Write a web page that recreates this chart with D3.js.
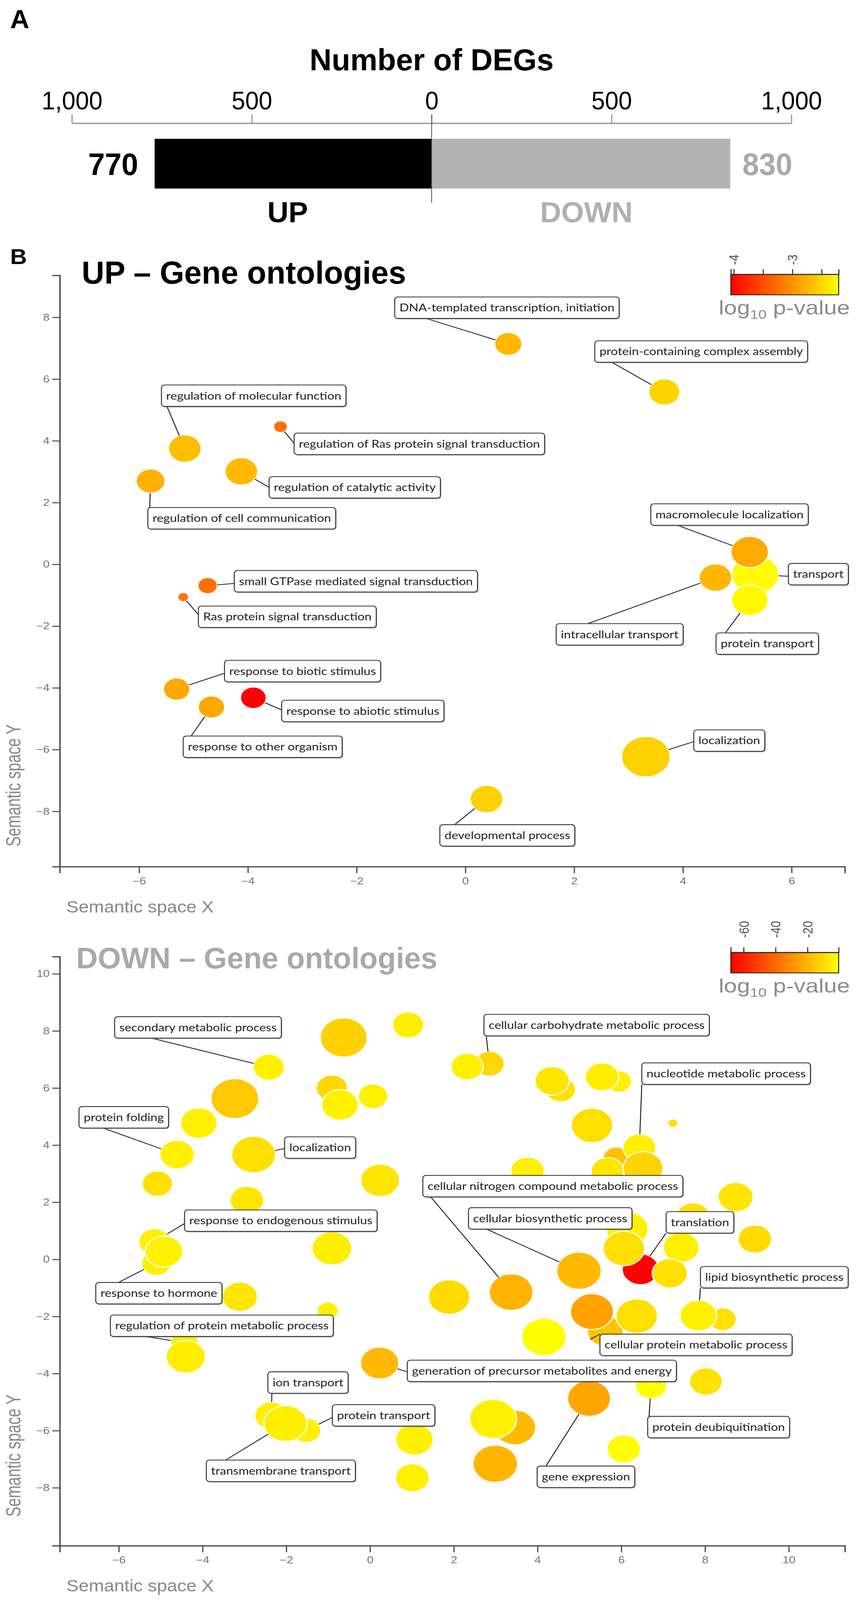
<!DOCTYPE html>
<html>
<head>
<meta charset="utf-8">
<script src="https://d3js.org/d3.v7.min.js"></script>
<style>
  html, body { margin: 0; padding: 0; background: #fff; overflow: hidden; }
  svg { display: block; }
  text { font-family: "Liberation Sans", Arial, sans-serif; }
  .go-label text { font-family: Lato, "Open Sans", sans-serif; }
</style>
</head>
<body>
<div id="chart"></div>
<script>
// ---- Panel A: number of DEGs ----
const degGroups = ['UP', 'DOWN'];
const degCounts = [770, 830];
const degTicks = [-1000, -500, 0, 500, 1000];

// ---- Panel B: UP gene ontologies (REVIGO semantic space) ----
const upTerms = ['transport', 'macromolecule localization', 'intracellular transport', 'protein transport',
  'localization', 'developmental process', 'DNA-templated transcription, initiation',
  'protein-containing complex assembly', 'regulation of molecular function', 'regulation of catalytic activity',
  'regulation of cell communication', 'regulation of Ras protein signal transduction',
  'small GTPase mediated signal transduction', 'Ras protein signal transduction',
  'response to biotic stimulus', 'response to other organism', 'response to abiotic stimulus'];
const upX = [5.33, 5.23, 4.60, 5.23, 3.32, 0.39, 0.79, 3.66, -5.16, -4.12, -5.79, -3.40, -4.74, -5.19, -5.31, -4.67, -3.90];
const upY = [-0.33, 0.40, -0.43, -1.16, -6.23, -7.60, 7.14, 5.58, 3.75, 3.01, 2.70, 4.46, -0.69, -1.06, -4.04, -4.62, -4.32];
const upLogSize = [3.5, 2.9, 2.6, 2.85, 3.6, 2.6, 2.25, 2.5, 2.6, 2.6, 2.35, 1.4, 1.75, 1.2, 2.2, 2.2, 2.15];
const upLogP = [-2.23, -2.82, -2.73, -2.25, -2.54, -2.54, -2.73, -2.52, -2.67, -2.71, -2.78, -3.24, -3.24, -3.19, -2.84, -2.84, -4.05];
const upXTicks = [-6, -4, -2, 0, 2, 4, 6];
const upYTicks = [-8, -6, -4, -2, 0, 2, 4, 6, 8];
const upLegendTicks = [-4, -3.5, -3, -2.5];
const upLegendLabels = [-4, -3];

// ---- Panel B: DOWN gene ontologies ----
const downTerms = [null, null, 'secondary metabolic process', null, null, 'protein folding', null, 'localization',
  null, null, null, null, null, 'response to hormone', 'response to endogenous stimulus', null, null, null, null,
  'regulation of protein metabolic process', null, 'generation of precursor metabolites and energy',
  'ion transport', 'protein transport', 'transmembrane transport', null, null, null,
  'cellular nitrogen compound metabolic process', 'cellular biosynthetic process', null, 'translation',
  null, null, null, null, null, null, null, null, null, 'nucleotide metabolic process', null, null, null, null,
  null, null, null, 'cellular carbohydrate metabolic process', null, 'cellular protein metabolic process',
  null, null, null, 'lipid biosynthetic process', null, 'protein deubiquitination', null, 'gene expression',
  null, null, null, null];
const downX = [-0.63, 0.91, -2.42, -3.23, -4.09, -4.61, -5.08, -2.78, -0.91, -0.72, 0.07, 0.24, -2.94, -5.10, -5.15,
  -4.92, -0.91, -3.11, -1.01, -4.43, -4.40, 0.23, -2.36, -1.52, -2.02, 1.06, 1.01, 1.89, 3.37, 4.99, 6.14, 6.46,
  6.06, 7.43, 7.16, 7.71, 8.73, 9.19, 3.76, 5.88, 5.67, 6.43, 6.52, 5.30, 7.23, 4.55, 4.35, 5.94, 5.54, 2.85, 2.32,
  5.62, 5.30, 6.37, 8.42, 7.84, 4.15, 6.71, 8.02, 5.23, 3.46, 2.94, 2.99, 6.06];
const downY = [7.77, 8.21, 6.73, 5.63, 4.77, 3.67, 2.65, 3.67, 6.00, 5.41, 5.71, 2.77, 2.07, -0.13, 0.62,
  0.27, 0.39, -1.31, -1.80, -2.92, -3.41, -3.63, -5.47, -5.99, -5.75, -6.31, -7.65, -1.32, -1.15, -0.40, 1.06, -0.35,
  0.38, 0.42, -0.49, 1.49, 2.18, 0.71, 3.09, 3.54, 3.09, 3.91, 3.19, 4.69, 4.77, 5.95, 6.25, 6.23, 6.39, 6.85, 6.75,
  -2.52, -1.83, -1.99, -2.10, -1.97, -2.72, -4.42, -4.28, -4.87, -5.89, -5.59, -7.16, -6.64];
const downLogSize = [3.5, 2.5, 2.5, 3.55, 2.85, 2.7, 2.45, 3.3, 2.5, 2.85, 2.4, 3.0, 2.65, 2.4, 2.5,
  2.9, 3.05, 2.75, 1.85, 2.25, 3.0, 2.95, 2.6, 2.35, 3.25, 2.9, 2.65, 3.15, 3.3, 3.35, 3.15, 2.85,
  3.15, 2.8, 2.75, 2.65, 2.75, 2.65, 2.65, 2.2, 2.6, 2.6, 3.05, 3.15, 1.15, 2.4, 2.7, 2.15, 2.65, 2.4, 2.55,
  2.8, 3.25, 3.15, 2.25, 2.85, 3.35, 2.5, 2.6, 3.25, 3.15, 3.5, 3.35, 2.65];
const downLogP = [-13, -5, -4.5, -15, -4.5, -4.5, -9, -9, -11, -4.5, -4.5, -7, -7, -4.5, -4.5,
  -4, -5, -7, -4.5, -4.5, -5, -19, -4.5, -4.5, -5, -4.5, -4.5, -10, -21, -19, -4.5, -68,
  -9, -4.5, -8.5, -8.5, -7, -10, -4.5, -17, -7, -4.5, -12, -9, -9, -8.5, -7.5, -4.5, -5, -11, -4.5,
  -16, -25, -9, -8.5, -4.5, -1, -1, -8, -24, -19, -4.5, -20, -1];
const downXTicks = [-6, -4, -2, 0, 2, 4, 6, 8, 10];
const downYTicks = [-8, -6, -4, -2, 0, 2, 4, 6, 8, 10];
const downLegendTicks = [-60, -40, -20];
const downLegendLabels = [-60, -40, -20];

// label layout: box top-left in semantic coords, leader attach point as fraction of box width/height
const upLabelPos = {
  'DNA-templated transcription, initiation': [-1.30, 8.66, 0.14, 1],
  'protein-containing complex assembly': [2.38, 7.24, 0.08, 1],
  'regulation of molecular function': [-5.59, 5.81, 0.03, 1],
  'regulation of Ras protein signal transduction': [-3.15, 4.25, 0, 0.48],
  'regulation of catalytic activity': [-3.61, 2.84, 0, 0.5],
  'regulation of cell communication': [-5.84, 1.84, 0.01, 0],
  'macromolecule localization': [3.41, 1.96, 0.17, 1],
  'transport': [5.94, 0.03, 0, 0.6],
  'intracellular transport': [1.67, -1.92, 0.25, 0],
  'protein transport': [4.61, -2.22, 0.09, 0],
  'small GTPase mediated signal transduction': [-4.25, -0.20, 0, 0.6],
  'Ras protein signal transduction': [-4.91, -1.35, 0, 0.4],
  'response to biotic stimulus': [-4.43, -3.11, 0, 0.6],
  'response to abiotic stimulus': [-3.38, -4.40, 0, 0.45],
  'response to other organism': [-5.19, -5.56, 0.05, 0],
  'localization': [4.20, -5.36, 0, 0.55],
  'developmental process': [-0.47, -8.43, 0.11, 0]
};
const downLabelPos = {
  'secondary metabolic process': [-6.10, 8.50, 0.22, 1],
  'protein folding': [-6.95, 5.35, 0.27, 1],
  'localization': [-2.04, 4.29, 0, 0.55],
  'response to endogenous stimulus': [-4.43, 1.73, 0, 0.63],
  'response to hormone': [-6.55, -0.81, 0.18, 0],
  'regulation of protein metabolic process': [-6.20, -1.95, 0.16, 1],
  'ion transport': [-2.44, -3.94, 0.05, 1],
  'protein transport': [-0.90, -5.09, 0, 0.6],
  'transmembrane transport': [-3.91, -7.03, 0.13, 0],
  'generation of precursor metabolites and energy': [0.89, -3.53, 0, 0.55],
  'cellular carbohydrate metabolic process': [2.72, 8.58, 0.01, 1],
  'nucleotide metabolic process': [6.49, 6.88, 0, 1],
  'cellular nitrogen compound metabolic process': [1.26, 2.94, 0.03, 1],
  'cellular biosynthetic process': [2.35, 1.81, 0.11, 1],
  'translation': [7.07, 1.67, 0, 1],
  'lipid biosynthetic process': [7.89, -0.25, 0, 1],
  'cellular protein metabolic process': [5.49, -2.62, 0, 0],
  'protein deubiquitination': [6.63, -5.50, 0.01, 0],
  'gene expression': [3.99, -7.24, 0.09, 0]
};

const W = 2217, H = 4922;
// the window can be shorter than the figure: stretch the drawing to the window so nothing is cut
const vw = window.innerWidth || W, vh = window.innerHeight || H;
const fitW = Math.min(W, vw), fitH = Math.min(H, vh);
const svg = d3.select('#chart').append('svg')
    .attr('width', fitW)
    .attr('height', fitH)
    .attr('viewBox', '0 0 ' + W + ' ' + H)
    .attr('preserveAspectRatio', 'none')
    .style('background', '#fff');
const defs = svg.append('defs');

// text squeezed horizontally, the figure uses a condensed face
function ctext(g, x, y, str, o) {
  return g.append('text')
    .attr('transform', 'translate(' + x + ',' + y + ') scale(' + (o.sx || 1) + ',1)')
    .attr('text-anchor', o.anchor || 'start')
    .attr('font-size', o.size)
    .attr('font-weight', o.weight || 'normal')
    .attr('fill', o.fill || '#000')
    .text(str);
}

// ================= Panel A =================
const gA = svg.append('g');
const xA = d3.scaleLinear().domain([-1000, 1000]).range([184, 2026]);
const signed = degCounts.map((d, i) => i === 0 ? -d : d);
const barColors = ['#000000', '#b3b3b3'];
const barTop = 427, barH = 153;

ctext(gA, 26, 86, 'A', { size: 80, weight: 'bold', sx: 0.85 });
ctext(gA, xA(0), 216, 'Number of DEGs', { size: 93, weight: 'bold', sx: 0.84, anchor: 'middle' });

const axA = gA.append('g')
    .attr('transform', 'translate(0,379)')
    .call(d3.axisTop(xA).tickValues(degTicks)
      .tickFormat(d => d3.format(',')(Math.abs(d)))
      .tickSize(27).tickSizeOuter(0).tickPadding(15));
axA.attr('font-family', null).attr('font-size', null);
axA.select('.domain').attr('stroke', '#999').attr('stroke-width', 4);
axA.selectAll('.tick line').attr('stroke', '#999').attr('stroke-width', 3);
axA.selectAll('.tick text').attr('font-size', 78).attr('fill', '#000').attr('transform', 'scale(0.8,1)');

gA.selectAll('rect.deg')
  .data(signed)
  .enter().append('rect')
    .attr('class', 'deg')
    .attr('x', d => xA(Math.min(0, d)))
    .attr('width', d => Math.abs(xA(d) - xA(0)))
    .attr('y', barTop)
    .attr('height', barH)
    .attr('fill', (d, i) => barColors[i]);

gA.append('line')
    .attr('x1', xA(0)).attr('x2', xA(0))
    .attr('y1', 352).attr('y2', 624)
    .attr('stroke', '#555').attr('stroke-width', 2);

signed.forEach((d, i) => {
  const countX = d < 0 ? xA(d) - 42 : xA(d) + 31;
  ctext(gA, countX, 538, String(degCounts[i]),
    { size: 96, weight: 'bold', sx: 0.8, anchor: d < 0 ? 'end' : 'start', fill: i === 0 ? '#000' : '#aaaaaa' });
  ctext(gA, (xA(d) + xA(0)) / 2 + (d < 0 ? -14 : 14), 684, degGroups[i],
    { size: 88, weight: 'bold', sx: 0.85, anchor: 'middle', fill: i === 0 ? '#000' : '#b0b0b0' });
});

// ================= Panel B =================
ctext(svg, 26, 812, 'B', { size: 66, weight: 'bold', sx: 0.9 });

const rScale = d3.scaleLinear().domain([1, 4]).range([10, 70]);

function drawPanel(c) {
  const g = svg.append('g');
  const x = d3.scaleLinear().domain(c.xDomain).range([153, 2163]);
  const y = d3.scaleLinear().domain(c.yDomain).range([c.bottom, c.top]);
  const col = d3.scaleLinear().domain(c.pDomain).range(['#ff0000', '#ffff00']);

  // axes
  const ax = g.append('g')
      .attr('transform', 'translate(0,' + c.bottom + ')')
      .call(d3.axisBottom(x).tickValues(c.xTicks).tickSize(20).tickSizeOuter(20).tickPadding(13));
  const ay = g.append('g')
      .attr('transform', 'translate(153,0)')
      .call(d3.axisLeft(y).tickValues(c.yTicks).tickSize(19).tickSizeOuter(19).tickPadding(7));
  [ax, ay].forEach(a => {
    a.attr('font-family', null).attr('font-size', null);
    a.select('.domain').attr('stroke', '#444').attr('stroke-width', 3.5);
    a.selectAll('.tick line').attr('stroke', '#444').attr('stroke-width', 3);
    a.selectAll('.tick text').attr('fill', '#777').attr('font-size', 30);
  });

  ctext(g, 170, c.bottom + 141, 'Semantic space X', { size: 52, fill: '#888', sx: 0.9 });
  g.append('text')
      .attr('transform', 'translate(52,' + c.yTitleStart + ') rotate(-90) scale(0.9,1)')
      .attr('font-size', 52)
      .attr('fill', '#888')
      .text('Semantic space Y');

  ctext(g, c.titleX, c.titleY, c.title, { size: c.titleSize, weight: 'bold', fill: c.titleColor, sx: 0.83 });

  // bubbles
  const pts = c.terms.map((t, i) => ({ term: t, x: c.xs[i], y: c.ys[i], size: c.sizes[i], p: c.ps[i] }));
  g.append('g').selectAll('circle')
    .data(pts)
    .enter().append('circle')
      .attr('cx', d => x(d.x))
      .attr('cy', d => y(d.y))
      .attr('r', d => rScale(d.size))
      .attr('fill', d => col(d.p))
      .attr('stroke', '#fff')
      .attr('stroke-width', 3);

  // labels with leader lines
  const leaders = g.append('g');
  const boxes = g.append('g').attr('class', 'go-label');
  const boxH = 66, pad = 12;
  pts.filter(d => d.term && c.labels[d.term]).forEach(d => {
    const [bx, by, fx, fy] = c.labels[d.term];
    const left = x(bx), top = y(by);
    const bg = boxes.append('g');
    const shadow = bg.append('rect').attr('x', left + 2).attr('y', top + 3).attr('height', boxH)
        .attr('rx', 8).attr('fill', '#666').attr('opacity', 0.55);
    const rect = bg.append('rect').attr('x', left).attr('y', top).attr('height', boxH)
        .attr('rx', 8).attr('fill', '#fff').attr('stroke', '#333').attr('stroke-width', 2.5);
    const t = bg.append('text')
        .attr('x', left + pad)
        .attr('y', top + boxH / 2)
        .attr('dy', '0.36em')
        .attr('font-size', 32)
        .attr('fill', '#222')
        .text(d.term);
    const w = t.node().getComputedTextLength() + 2 * pad;
    rect.attr('width', w);
    shadow.attr('width', w);

    const px = left + fx * w, py = top + fy * boxH;
    const cx = x(d.x), cy = y(d.y), r = rScale(d.size);
    const dist = Math.hypot(px - cx, py - cy);
    leaders.append('line')
        .attr('x1', px).attr('y1', py)
        .attr('x2', cx + (px - cx) / dist * r)
        .attr('y2', cy + (py - cy) / dist * r)
        .attr('stroke', '#222').attr('stroke-width', 2.5);
  });

  // colour legend
  const lx = d3.scaleLinear().domain(c.pDomain).range([1871, 2147]);
  const grad = defs.append('linearGradient')
      .attr('id', c.id + '-grad')
      .attr('gradientUnits', 'userSpaceOnUse')
      .attr('x1', 1871).attr('x2', 2147).attr('y1', 0).attr('y2', 0);
  d3.range(0, 1.01, 0.1).forEach(f => {
    grad.append('stop').attr('offset', f).attr('stop-color', col(c.pDomain[0] + f * (c.pDomain[1] - c.pDomain[0])));
  });
  g.append('rect')
      .attr('x', 1871).attr('y', c.legTop)
      .attr('width', 276).attr('height', 63)
      .attr('fill', 'url(#' + c.id + '-grad)')
      .attr('stroke', '#222').attr('stroke-width', 2.5);
  const la = g.append('g')
      .attr('transform', 'translate(0,' + c.legTop + ')')
      .call(d3.axisTop(lx).tickValues(c.legTicks).tickSize(16).tickSizeOuter(16).tickFormat(''));
  la.select('.domain').attr('stroke', '#222').attr('stroke-width', 2.5);
  la.selectAll('.tick line').attr('stroke', '#222').attr('stroke-width', 2.5);
  c.legLabels.forEach(v => {
    g.append('text')
        .attr('transform', 'translate(' + lx(v) + ',' + (c.legTop - c.legOff) + ') rotate(-90)')
        .attr('dy', '0.36em')
        .attr('font-size', 36)
        .attr('fill', '#555')
        .text(v);
  });
  const lt = g.append('text')
      .attr('x', 1840)
      .attr('y', c.legTop + 63 + 60)
      .attr('font-size', 60)
      .attr('fill', '#8c8c8c');
  lt.append('tspan').text('log');
  lt.append('tspan').attr('font-size', 38).attr('dy', 14).text('10');
  lt.append('tspan').attr('dy', -14).text(' p-value');
}

drawPanel({
  id: 'up', terms: upTerms, xs: upX, ys: upY, sizes: upLogSize, ps: upLogP, labels: upLabelPos,
  xDomain: [-7.46, 6.98], yDomain: [-9.79, 9.36], top: 847, bottom: 2666,
  xTicks: upXTicks, yTicks: upYTicks,
  pDomain: [-4.05, -2.21], legTop: 844, legTicks: upLegendTicks, legLabels: upLegendLabels, legOff: 29,
  title: 'UP \u2013 Gene ontologies', titleX: 209, titleY: 873, titleSize: 97, titleColor: '#000',
  yTitleStart: 2604
});

drawPanel({
  id: 'down', terms: downTerms, xs: downX, ys: downY, sizes: downLogSize, ps: downLogP, labels: downLabelPos,
  xDomain: [-7.41, 11.34], yDomain: [-10.03, 10.6], top: 2943, bottom: 4755,
  xTicks: downXTicks, yTicks: downYTicks,
  pDomain: [-68, -0.5], legTop: 2930, legTicks: downLegendTicks, legLabels: downLegendLabels, legOff: 45,
  title: 'DOWN \u2013 Gene ontologies', titleX: 195, titleY: 2979, titleSize: 92, titleColor: '#a9a9a9',
  yTitleStart: 4666
});
</script>
</body>
</html>
